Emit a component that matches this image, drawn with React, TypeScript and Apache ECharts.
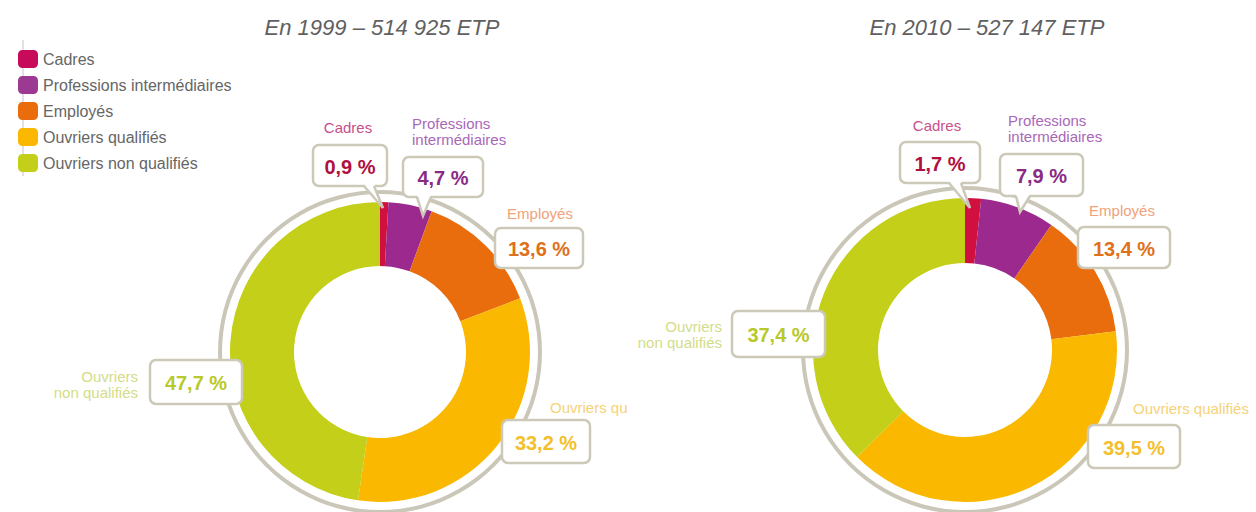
import React, { useEffect, useRef } from "react";
import * as echarts from "echarts";

// ---- data ----
const categories = [
  "Cadres",
  "Professions intermédiaires",
  "Employés",
  "Ouvriers qualifiés",
  "Ouvriers non qualifiés",
];
const values1999 = [0.9, 4.7, 13.6, 33.2, 47.7];
const values2010 = [1.7, 7.9, 13.4, 39.5, 37.4];
const titles = ["En 1999 – 514 925 ETP", "En 2010 – 527 147 ETP"];
const calloutNames1999 = [
  "Cadres",
  "Professions\nintermédiaires",
  "Employés",
  "Ouvriers qu",
  "Ouvriers\nnon qualifiés",
];
const calloutNames2010 = [
  "Cadres",
  "Professions\nintermédiaires",
  "Employés",
  "Ouvriers qualifiés",
  "Ouvriers\nnon qualifiés",
];

// ---- styles ----
const sliceColors = ["#d0103f", "#9c2a8e", "#e96d0c", "#fbb800", "#c3cf19"];
const legendColors = ["#c80a5a", "#9c3a92", "#e96d0c", "#fbb800", "#c3cf19"];
const valueColors = ["#b0103f", "#8a2a84", "#e0701a", "#f4bf2c", "#b9c82a"];
const nameColors = ["#c8508a", "#a868b8", "#f0a27a", "#f6d278", "#d3dd88"];
const boxStroke = "#cdc9b9";

const donuts = [
  { cx: 380, cy: 352, r0: 86, r: 150, titleX: 382 },
  { cx: 965, cy: 350, r0: 87, r: 152, titleX: 987 },
];

type Callout = {
  box: number[];
  name: number[];
  align: string;
  tail?: number[];
};
const layout1999: Callout[] = [
  { box: [313, 145, 74, 41], name: [348, 127], align: "center", tail: [364, 374, 383, 208] },
  { box: [403, 157, 80, 40], name: [412, 131], align: "left", tail: [417, 431, 423, 216] },
  { box: [495, 228, 88, 40], name: [540, 213], align: "center" },
  { box: [502, 420, 88, 43], name: [550, 407], align: "left" },
  { box: [150, 360, 92, 44], name: [138, 384], align: "right" },
];
const layout2010: Callout[] = [
  { box: [900, 142, 80, 41], name: [937, 125], align: "center", tail: [949, 961, 970, 208] },
  { box: [1000, 154, 83, 42], name: [1008, 128], align: "left", tail: [1016, 1030, 1020, 212] },
  { box: [1078, 227, 92, 41], name: [1122, 210], align: "center" },
  { box: [1088, 425, 92, 43], name: [1133, 408], align: "left" },
  { box: [732, 311, 93, 46], name: [722, 334], align: "right" },
];

const fmt = (v: number) => v.toFixed(1).replace(".", ",") + " %";

function calloutGraphics(values: number[], names: string[], lay: Callout[]) {
  const els: any[] = [];
  values.forEach((v, j) => {
    const L = lay[j];
    const [bx, by, bw, bh] = L.box;
    els.push({
      type: "rect",
      z: 100,
      shape: { x: bx, y: by, width: bw, height: bh, r: 6 },
      style: { fill: "#ffffff", stroke: boxStroke, lineWidth: 2.5 },
      silent: true,
    });
    if (L.tail) {
      const [a, b, tx, ty] = L.tail;
      const bottom = by + bh;
      els.push({
        type: "polygon",
        z: 101,
        shape: { points: [[a, bottom - 2], [b, bottom - 2], [tx, ty]] },
        style: { fill: "#ffffff" },
        silent: true,
      });
      els.push({
        type: "polyline",
        z: 102,
        shape: { points: [[a, bottom], [tx, ty], [b, bottom]] },
        style: { stroke: boxStroke, lineWidth: 2.5, fill: null },
        silent: true,
      });
    }
    els.push({
      type: "text",
      z: 103,
      x: bx + bw / 2,
      y: by + bh / 2 + 1,
      style: {
        text: fmt(v),
        fill: valueColors[j],
        fontSize: 20,
        fontWeight: "bold",
        fontFamily: "Liberation Sans, Arial, sans-serif",
        align: "center",
        verticalAlign: "middle",
      },
      silent: true,
    });
    els.push({
      type: "text",
      z: 103,
      x: L.name[0],
      y: L.name[1],
      style: {
        text: names[j],
        fill: nameColors[j],
        fontSize: 15,
        lineHeight: 16,
        fontFamily: "Liberation Sans, Arial, sans-serif",
        align: L.align,
        verticalAlign: "middle",
      },
      silent: true,
    });
  });
  return els;
}

export default function App() {
  const ref = useRef<HTMLDivElement>(null);
  useEffect(() => {
    if (!ref.current) return;
    const chart = echarts.init(ref.current, undefined, { renderer: "svg" });

    const makePie = (vals: number[], d: any) => ({
      type: "pie",
      center: [d.cx, d.cy],
      radius: [d.r0, d.r],
      startAngle: 90,
      clockwise: true,
      silent: true,
      label: { show: false },
      labelLine: { show: false },
      emphasis: { disabled: true },
      itemStyle: { borderWidth: 0 },
      data: categories.map((c, j) => ({
        name: c,
        value: vals[j],
        itemStyle: { color: sliceColors[j] },
      })),
    });

    const graphics: any[] = [];
    graphics.push({
      type: "line",
      z: 0,
      shape: { x1: 23, y1: 40, x2: 23, y2: 176 },
      style: { stroke: "#c6c0d0", lineWidth: 1 },
      silent: true,
    });
    donuts.forEach((d, i) => {
      graphics.push({
        type: "ring",
        z: 1,
        shape: { cx: d.cx, cy: d.cy, r: d.r + 12, r0: d.r + 8 },
        style: { fill: "#cbc7b8" },
        silent: true,
      });
      graphics.push({
        type: "text",
        z: 5,
        x: d.titleX,
        y: 27,
        style: {
          text: titles[i],
          fill: "#606060",
          fontSize: 22,
          fontStyle: "italic",
          fontFamily: "Liberation Sans, Arial, sans-serif",
          align: "center",
          verticalAlign: "middle",
        },
        silent: true,
      });
    });
    graphics.push(...calloutGraphics(values1999, calloutNames1999, layout1999));
    graphics.push(...calloutGraphics(values2010, calloutNames2010, layout2010));

    chart.setOption({
      animation: false,
      backgroundColor: "#ffffff",
      color: legendColors,
      legend: {
        orient: "vertical",
        left: 13,
        top: 45,
        itemWidth: 20,
        itemHeight: 18,
        itemGap: 8,
        icon: "roundRect",
        selectedMode: false,
        data: categories.map((c, j) => ({
          name: c,
          itemStyle: { color: legendColors[j] },
        })),
        textStyle: {
          fontSize: 16,
          color: "#666666",
          fontFamily: "Liberation Sans, Arial, sans-serif",
        },
      },
      series: [makePie(values1999, donuts[0]), makePie(values2010, donuts[1])],
      graphic: { elements: graphics },
    });
    return () => chart.dispose();
  }, []);
  return (
    <div
      ref={ref}
      style={{ position: "fixed", left: 0, top: 0, width: 1256, height: 512 }}
    />
  );
}
